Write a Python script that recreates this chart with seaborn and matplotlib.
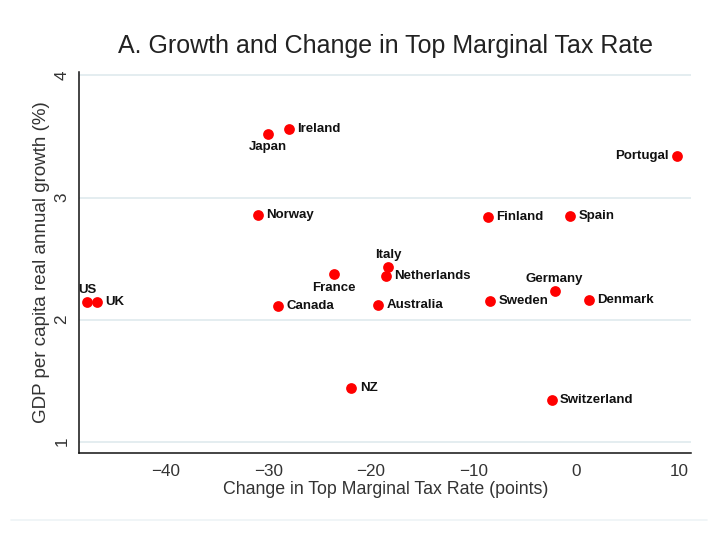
import matplotlib
matplotlib.use("Agg")
import matplotlib.pyplot as plt
import seaborn as sns
import pandas as pd
from matplotlib.lines import Line2D

countries = ["US", "UK", "Japan", "Ireland", "Norway", "France", "Canada",
             "Italy", "Netherlands", "Australia", "Portugal", "Finland",
             "Spain", "Germany", "Sweden", "Denmark", "NZ", "Switzerland"]
tax_change = [-47.6, -46.7, -30.05, -28.0, -31.0, -23.6, -29.0,
              -18.3, -18.5, -19.3, 9.8, -8.6,
              -0.6, -2.1, -8.4, 1.2, -21.9, -2.4]
growth = [2.14, 2.14, 3.52, 3.56, 2.86, 2.37, 2.11,
          2.43, 2.36, 2.12, 3.34, 2.84,
          2.85, 2.23, 2.15, 2.16, 1.44, 1.34]
label_pos = ["above", "right", "below", "right", "right", "below", "right",
             "above", "right", "right", "left", "right",
             "right", "above", "right", "right", "right", "right"]
x_ticks = [-40, -30, -20, -10, 0, 10]
y_ticks = [1, 2, 3, 4]

df = pd.DataFrame({"country": countries, "tax": tax_change,
                   "growth": growth, "pos": label_pos})

sns.set_style("white")
plt.rcParams['font.family'] = ['Liberation Sans', 'DejaVu Sans']

fig = plt.figure(figsize=(7.2, 5.4), dpi=100)
ax = fig.add_axes([0.110, 0.161, 0.850, 0.706])

ax.set_xlim(-48.4, 11.2)
ax.set_ylim(0.906, 4.03)
for yv in y_ticks:
    ax.axhline(yv, color="#e4edf0", lw=1.4, zorder=0)

sns.scatterplot(data=df, x="tax", y="growth", ax=ax, color="#ff0000",
                s=60, edgecolor="#ff0000", linewidth=0, zorder=3, legend=False)

offsets = {"right": ((6, 0), "left"), "left": ((-6, 0), "right"),
           "above": ((0, 9), "center"), "below": ((0, -9.5), "center")}
for _, r in df.iterrows():
    off, ha = offsets[r["pos"]]
    ax.annotate(r["country"], (r["tax"], r["growth"]), xytext=off,
                textcoords="offset points", ha=ha, va="center",
                fontsize=9.5, fontweight="bold", color="#111111", zorder=4)

ax.set_xticks(x_ticks)
ax.set_xticklabels(["\u2212" + str(-t) if t < 0 else str(t) for t in x_ticks])
ax.set_yticks(y_ticks)
ax.set_yticklabels([str(t) for t in y_ticks], rotation=90, va="center")
ax.tick_params(axis="both", direction="out", length=5, width=1,
               color="#222222", labelsize=12.3, labelcolor="#333333", pad=3)
ax.tick_params(axis="y", pad=2)

for s in ["top", "right"]:
    ax.spines[s].set_visible(False)
for s in ["left", "bottom"]:
    ax.spines[s].set_color("#111111")
    ax.spines[s].set_linewidth(1.1)

ax.set_xlabel("Change in Top Marginal Tax Rate (points)", fontsize=12.8,
              color="#333333", labelpad=1)
ax.set_ylabel("GDP per capita real annual growth (%)", fontsize=13.5,
              color="#333333", labelpad=3)
fig.text(0.536, 0.915, "A. Growth and Change in Top Marginal Tax Rate",
         ha="center", va="center", fontsize=18, color="#222222")

fig.add_artist(Line2D([0.015, 0.982], [1 - 520 / 540, 1 - 520 / 540],
                      transform=fig.transFigure, color="#eef4f6", lw=1.2))

fig.savefig("out.png", dpi=100)
